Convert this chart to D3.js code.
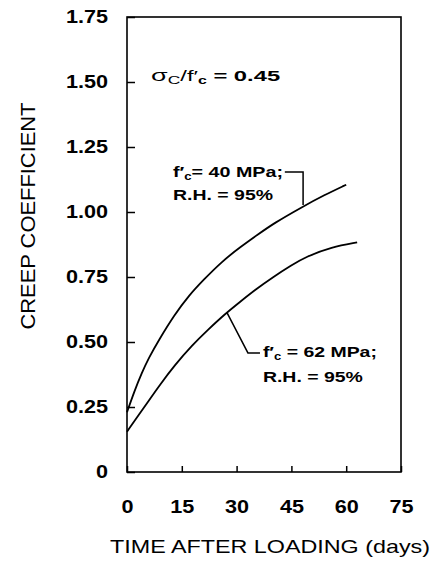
<!DOCTYPE html>
<html>
<head>
<meta charset="utf-8">
<script src="https://cdn.jsdelivr.net/npm/d3@7"></script>
<style>
  body { margin: 0; background: #fff; }
  text { font-family: "Liberation Sans", Arial, sans-serif; fill: #000; }
</style>
</head>
<body>
<div id="chart"></div>
<script>
// creep coefficient vs time after loading
let days40 = [0, 2, 4, 6, 8.6, 13, 17, 21, 26, 31, 36, 40, 48, 54, 60];
let creep40 = [0.23, 0.31, 0.38, 0.44, 0.505, 0.605, 0.68, 0.74, 0.81, 0.865, 0.915, 0.955, 1.02, 1.065, 1.105];

let days62 = [0, 3, 6, 9, 13, 18, 22, 27, 31, 35, 40, 45, 49, 56, 63];
let creep62 = [0.155, 0.215, 0.275, 0.335, 0.41, 0.49, 0.545, 0.61, 0.655, 0.70, 0.75, 0.795, 0.828, 0.865, 0.883];

let xTicks = [0, 15, 30, 45, 60, 75];
let yTicks = [0, 0.25, 0.5, 0.75, 1.0, 1.25, 1.5, 1.75];

let width = 434, height = 564;
let chartPadding = { left: 127, right: 33, top: 17, bottom: 92 }; //px

let svg = d3.select("#chart")
    .append("svg")
    .attr("width", width)
    .attr("height", height);

svg.append("rect")
    .attr("width", "100%")
    .attr("height", "100%")
    .attr("fill", "#fff");

let x = d3.scaleLinear()
    .domain([0, 75])
    .range([chartPadding.left, width - chartPadding.right]);

let y = d3.scaleLinear()
    .domain([0, 1.75])
    .range([height - chartPadding.bottom, chartPadding.top]);

// widen glyphs a bit, the scan uses a broad face
function stretch(sel, k) {
    sel.each(function () {
        let w = this.getComputedTextLength();
        d3.select(this)
            .attr("textLength", w * k)
            .attr("lengthAdjust", "spacingAndGlyphs");
    });
}

/*---------------
 // frame
 ----------------*/
svg.append("rect")
    .attr("x", x(0))
    .attr("y", y(1.75))
    .attr("width", x(75) - x(0))
    .attr("height", y(0) - y(1.75))
    .attr("fill", "none")
    .attr("stroke", "#000")
    .attr("stroke-width", 1.6);

/*---------------
 // y axis stuff
 ----------------*/
let yAxis = d3.axisLeft(y)
    .tickValues(yTicks)
    .tickSize(-8)
    .tickPadding(19)
    .tickFormat(d => d === 0 ? "0" : d3.format(".2f")(d));

let gy = svg.append("g")
    .attr("transform", "translate(" + x(0) + ",0)")
    .call(yAxis);
gy.select(".domain").remove();
gy.selectAll(".tick line").attr("stroke-width", 1.5);
gy.selectAll(".tick text")
    .style("font-family", "Liberation Sans, Arial, sans-serif")
    .style("font-size", "18px")
    .style("font-weight", "bold")
    .call(stretch, 1.2);

let yLabelCenter = { x: 28, y: 216 };
svg.append("text")
    .attr("x", yLabelCenter.x)
    .attr("y", yLabelCenter.y)
    .attr("dy", "0.36em")
    .style("text-anchor", "middle")
    .style("font-size", "20px")
    .attr("transform", "rotate(-90," + yLabelCenter.x + "," + yLabelCenter.y + ")")
    .text("CREEP COEFFICIENT")
    .attr("textLength", 227)
    .attr("lengthAdjust", "spacingAndGlyphs");

/*---------------
 // x axis stuff
 ----------------*/
let xAxis = d3.axisBottom(x)
    .tickValues(xTicks)
    .tickSize(-6)
    .tickPadding(28)
    .tickFormat(d3.format("d"));

let gx = svg.append("g")
    .attr("transform", "translate(0," + y(0) + ")")
    .call(xAxis);
gx.select(".domain").remove();
gx.selectAll(".tick line").attr("stroke-width", 1.5);
gx.selectAll(".tick text")
    .style("font-family", "Liberation Sans, Arial, sans-serif")
    .style("font-size", "18px")
    .style("font-weight", "bold")
    .call(stretch, 1.2);

svg.append("text")
    .attr("x", 270)
    .attr("y", 553)
    .style("text-anchor", "middle")
    .style("font-size", "19px")
    .text("TIME AFTER LOADING (days)")
    .attr("textLength", 320)
    .attr("lengthAdjust", "spacingAndGlyphs");

/*---------------
 // curves
 ----------------*/
let line = d3.line()
    .x(d => x(d[0]))
    .y(d => y(d[1]))
    .curve(d3.curveBasis);

[[days40, creep40], [days62, creep62]].forEach(s => {
    svg.append("path")
        .datum(d3.zip(s[0], s[1]))
        .attr("d", line)
        .attr("fill", "none")
        .attr("stroke", "#000")
        .attr("stroke-width", 1.8);
});

/*---------------
 // annotations
 ----------------*/
// leaders in data units
let leader40 = [[43.2, 1.154], [48.2, 1.154], [48.2, 1.027]];
let leader62 = [[27.4, 0.612], [33.1, 0.458], [36.4, 0.458]];

[leader40, leader62].forEach(l => {
    svg.append("path")
        .datum(l)
        .attr("d", d3.line().x(d => x(d[0])).y(d => y(d[1])))
        .attr("fill", "none")
        .attr("stroke", "#000")
        .attr("stroke-width", 1.5);
});

function fcLabel(t, v, rest, len) {
    let txt = svg.append("text")
        .attr("x", x(t))
        .attr("y", y(v))
        .style("font-size", "15px")
        .style("font-weight", "bold");
    txt.append("tspan").text("f′");
    txt.append("tspan").attr("dy", 3).style("font-size", "10px").text("c");
    txt.append("tspan").attr("dy", -3).text(rest);
    txt.attr("textLength", len).attr("lengthAdjust", "spacingAndGlyphs");
    return txt;
}

function plainLabel(t, v, s, len) {
    svg.append("text")
        .attr("x", x(t))
        .attr("y", y(v))
        .style("font-size", "15px")
        .style("font-weight", "bold")
        .text(s)
        .attr("textLength", len)
        .attr("lengthAdjust", "spacingAndGlyphs");
}

fcLabel(12.6, 1.135, "= 40 MPa;", 110);
plainLabel(12.6, 1.046, "R.H. = 95%", 100);

fcLabel(37.2, 0.442, " = 62 MPa;", 114);
plainLabel(37.2, 0.346, "R.H. = 95%", 100);

// stress ratio
let sig = svg.append("text")
    .attr("x", x(6.6))
    .attr("y", y(1.504))
    .style("font-size", "15px")
    .style("font-weight", "bold");
sig.append("tspan").style("font-weight", "normal").style("font-size", "17px").text("σ");
sig.append("tspan").attr("dy", 3).style("font-size", "11px").style("font-weight", "normal").text("C");
sig.append("tspan").attr("dy", -3).style("font-weight", "normal").text("/f′");
sig.append("tspan").attr("dy", 3).style("font-size", "10px").text("c");
sig.append("tspan").attr("dy", -3).text(" = 0.45");
sig.attr("textLength", 129).attr("lengthAdjust", "spacingAndGlyphs");
</script>
</body>
</html>
